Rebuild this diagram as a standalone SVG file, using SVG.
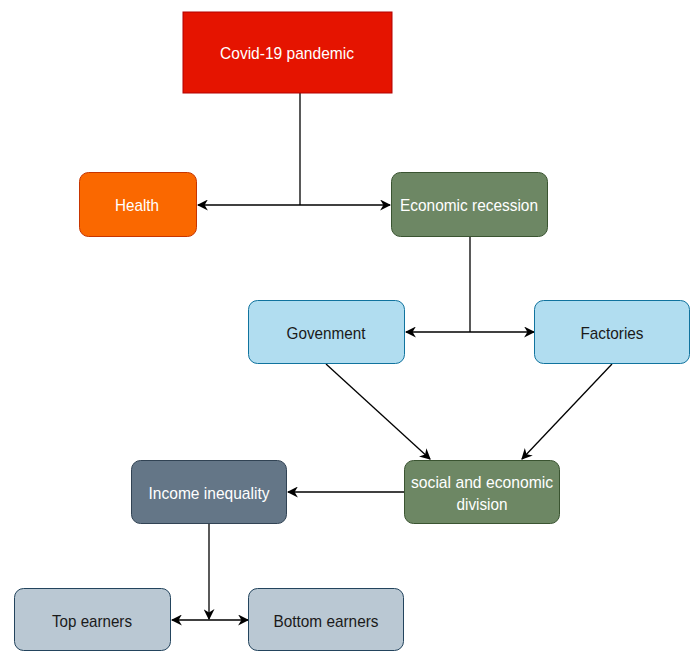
<svg xmlns="http://www.w3.org/2000/svg" width="698" height="651" viewBox="0 0 698 651">
<style>
.t{font-family:"Liberation Sans",Arial,sans-serif;font-size:17px;text-anchor:middle}
.w{fill:#ffffff}
.d{fill:#1a1a1a}
.c{fill:none;stroke:#000;stroke-width:1.3}
</style>
<defs>
<marker id="a" viewBox="0 0 10 10" refX="9" refY="5" markerWidth="11" markerHeight="11" markerUnits="userSpaceOnUse" orient="auto-start-reverse">
<path d="M0,0 L10,5 L0,10 L3,5 z" fill="#000"/>
</marker>
</defs>
<rect width="698" height="651" fill="#fff"/>
<g id="connectors">
<path class="c" d="M300,93 V205"/>
<path class="c" d="M198,205 H390" marker-start="url(#a)" marker-end="url(#a)"/>
<path class="c" d="M470,237 V332"/>
<path class="c" d="M406,332 H534" marker-start="url(#a)" marker-end="url(#a)"/>
<path class="c" d="M326,364 L430,459" marker-end="url(#a)"/>
<path class="c" d="M612,364 L522,459" marker-end="url(#a)"/>
<path class="c" d="M404,492 H288" marker-end="url(#a)"/>
<path class="c" d="M209,524 V619" marker-end="url(#a)"/>
<path class="c" d="M172,620 H248" marker-start="url(#a)" marker-end="url(#a)"/>
</g>
<g id="covid">
<rect x="183" y="12" width="209" height="81" fill="#e51400" stroke="#b20000"/>
<text class="t w" x="287" y="59" textLength="134" lengthAdjust="spacingAndGlyphs">Covid-19 pandemic</text>
</g>
<g id="health">
<rect x="79.5" y="172.5" width="117" height="64" rx="9" fill="#fa6800" stroke="#c73500"/>
<text class="t w" x="137" y="211" textLength="44" lengthAdjust="spacingAndGlyphs">Health</text>
</g>
<g id="economic">
<rect x="391.5" y="172.5" width="156" height="64" rx="9" fill="#6d8764" stroke="#3a5431"/>
<text class="t w" x="469" y="211" textLength="138" lengthAdjust="spacingAndGlyphs">Economic recession</text>
</g>
<g id="government">
<rect x="248.5" y="300.5" width="156" height="63" rx="9" fill="#b1ddf0" stroke="#10739e"/>
<text class="t d" x="326" y="339" textLength="79" lengthAdjust="spacingAndGlyphs">Govenment</text>
</g>
<g id="factories">
<rect x="534.5" y="300.5" width="155" height="63" rx="9" fill="#b1ddf0" stroke="#10739e"/>
<text class="t d" x="612" y="339" textLength="63" lengthAdjust="spacingAndGlyphs">Factories</text>
</g>
<g id="social">
<rect x="404.5" y="460.5" width="155" height="63" rx="9" fill="#6d8764" stroke="#3a5431"/>
<text class="t w" x="482" y="488" textLength="142" lengthAdjust="spacingAndGlyphs">social and economic</text>
<text class="t w" x="482" y="510" textLength="51" lengthAdjust="spacingAndGlyphs">division</text>
</g>
<g id="income">
<rect x="131.5" y="460.5" width="155" height="63" rx="9" fill="#647687" stroke="#314354"/>
<text class="t w" x="209" y="499" textLength="121" lengthAdjust="spacingAndGlyphs">Income inequality</text>
</g>
<g id="top">
<rect x="14.5" y="588.5" width="156" height="62" rx="9" fill="#bac8d3" stroke="#23445d"/>
<text class="t d" x="92" y="627" textLength="80" lengthAdjust="spacingAndGlyphs">Top earners</text>
</g>
<g id="bottom">
<rect x="248.5" y="588.5" width="155" height="62" rx="9" fill="#bac8d3" stroke="#23445d"/>
<text class="t d" x="326" y="627" textLength="105" lengthAdjust="spacingAndGlyphs">Bottom earners</text>
</g>
</svg>
